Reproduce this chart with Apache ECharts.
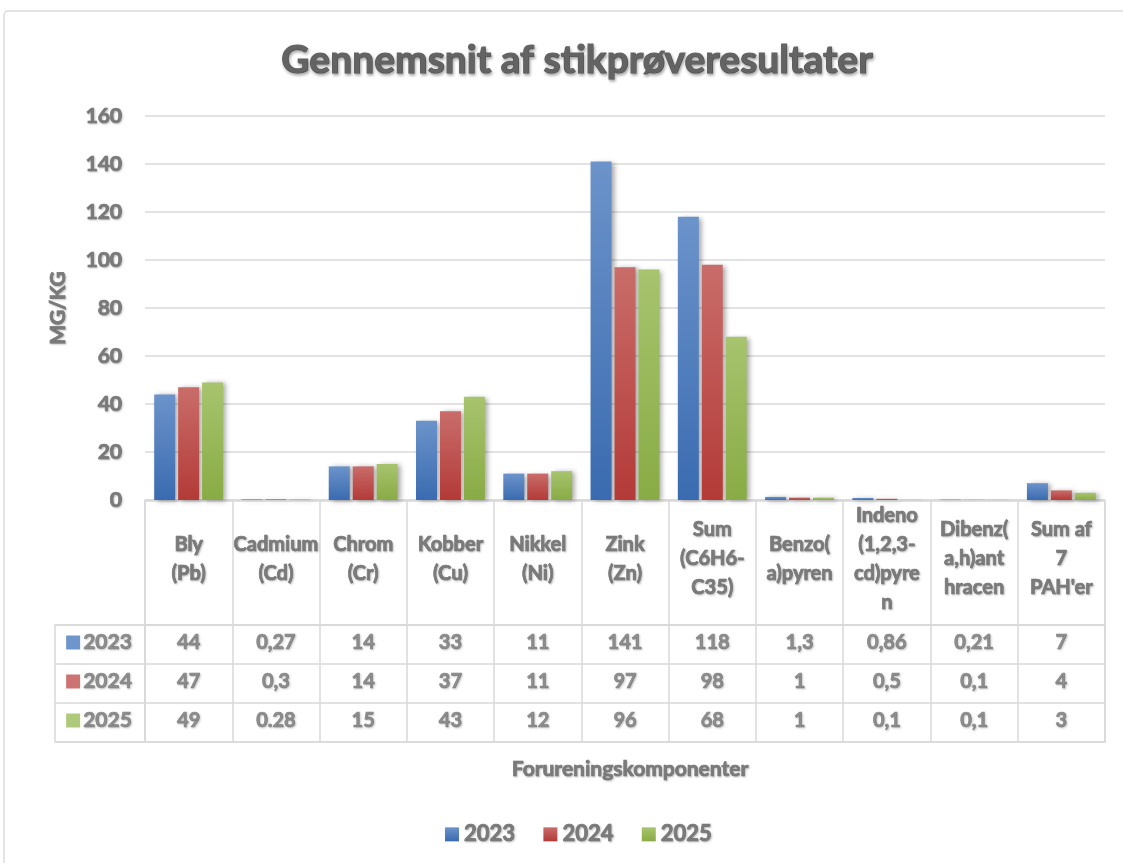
<!DOCTYPE html>
<html>
<head>
<meta charset="utf-8">
<script src="https://cdn.jsdelivr.net/npm/echarts@6/dist/echarts.min.js"></script>
<style>
html,body{margin:0;padding:0;background:#fff;}
#chart{width:1123px;height:863px;}
</style>
</head>
<body>
<div id="chart"></div>
<script>
const categories = ['Bly\n(Pb)', 'Cadmium\n(Cd)', 'Chrom\n(Cr)', 'Kobber\n(Cu)', 'Nikkel\n(Ni)', 'Zink\n(Zn)', 'Sum\n(C6H6-\nC35)', 'Benzo(\na)pyren', 'Indeno\n(1,2,3-\ncd)pyre\nn', 'Dibenz(\na,h)ant\nhracen', "Sum af\n7\nPAH'er"];
const years = ['2023', '2024', '2025'];
const values2023 = [44, 0.27, 14, 33, 11, 141, 118, 1.3, 0.86, 0.21, 7];
const values2024 = [47, 0.3, 14, 37, 11, 97, 98, 1, 0.5, 0.1, 4];
const values2025 = [49, 0.28, 15, 43, 12, 96, 68, 1, 0.1, 0.1, 3];
const labels2023 = ['44', '0,27', '14', '33', '11', '141', '118', '1,3', '0,86', '0,21', '7'];
const labels2024 = ['47', '0,3', '14', '37', '11', '97', '98', '1', '0,5', '0,1', '4'];
const labels2025 = ['49', '0.28', '15', '43', '12', '96', '68', '1', '0,1', '0,1', '3'];
const yMin = 0, yMax = 160, yStep = 20;

const FONT = 'Lato';
const W = 'bold';
const TXT = '#7a7a7a';
const LINE = '#d9d9d9';
const shadowTxt = {textBorderColor: TXT, textBorderWidth: 0.7, textShadowColor: 'rgba(0,0,0,0.22)', textShadowBlur: 2, textShadowOffsetX: 1, textShadowOffsetY: 1};

const colors = [
  {top: '#6c93ca', bottom: '#3a6bb0', solid: '#4a7bbf'},
  {top: '#c96d6a', bottom: '#b33a37', solid: '#c0504d'},
  {top: '#a7c46e', bottom: '#89ab45', solid: '#9bbb59'}
];
const valueSets = [values2023, values2024, values2025];
const labelSets = [labels2023, labels2024, labels2025];

function grad(c) {
  return new echarts.graphic.LinearGradient(0, 0, 0, 1, [
    {offset: 0, color: c.top}, {offset: 1, color: c.bottom}
  ]);
}

const series = [];
years.forEach((y, k) => {
  series.push({
    name: y, type: 'bar', xAxisIndex: 0, yAxisIndex: 0,
    data: valueSets[k],
    barWidth: 21, barGap: '14%',
    itemStyle: {color: grad(colors[k]), shadowColor: 'rgba(0,0,0,0.35)', shadowBlur: 5, shadowOffsetX: 3, shadowOffsetY: 1},
    emphasis: {disabled: true}
  });
});
years.forEach((y, k) => {
  series.push({
    name: 'tbl' + y, type: 'scatter', xAxisIndex: 2, yAxisIndex: 2,
    symbolSize: 1, itemStyle: {color: 'rgba(0,0,0,0)'},
    data: labelSets[k].map((s, i) => [i, k]),
    label: {show: true, position: 'inside', formatter: p => labelSets[k][p.dataIndex],
      color: TXT, fontFamily: FONT, fontWeight: W, fontSize: 20, offset: [0, -2], ...shadowTxt},
    emphasis: {disabled: true},
    silent: true
  });
});
series.push({
  name: 'legendcol', type: 'scatter', xAxisIndex: 3, yAxisIndex: 3,
  symbolSize: 1, itemStyle: {color: 'rgba(0,0,0,0)'},
  data: years.map((y, k) => [0, k]),
  label: {show: true, position: 'inside', offset: [-1, -2],
    formatter: p => '{s' + p.dataIndex + '|}{t|' + years[p.dataIndex] + '}',
    rich: {
      s0: {width: 14, height: 14, backgroundColor: colors[0].solid},
      s1: {width: 14, height: 14, backgroundColor: colors[1].solid},
      s2: {width: 14, height: 14, backgroundColor: colors[2].solid},
      t: {color: TXT, fontFamily: FONT, fontWeight: W, fontSize: 21, padding: [0, 0, 0, 3], ...shadowTxt}
    }},
  emphasis: {disabled: true},
  silent: true
});

const option = {
  backgroundColor: '#fff',
  animation: false,
  title: [
    {text: 'Gennemsnit af stikprøveresultater', left: 572, textAlign: 'center', top: 36,
      textStyle: {fontFamily: FONT, fontWeight: W, fontSize: 39, color: '#636363', textBorderColor: '#636363', textBorderWidth: 1.2,
        textShadowColor: 'rgba(0,0,0,0.3)', textShadowBlur: 3, textShadowOffsetX: 1, textShadowOffsetY: 2}},
    {text: 'Forureningskomponenter', left: 625, textAlign: 'center', top: 754,
      textStyle: {fontFamily: FONT, fontWeight: W, fontSize: 21, color: TXT, ...shadowTxt}}
  ],
  legend: {
    data: years, top: 818, left: 440, icon: 'rect', itemWidth: 14, itemHeight: 14, itemGap: 28,
    textStyle: {fontFamily: FONT, fontWeight: W, fontSize: 22, color: TXT, ...shadowTxt},
    selectedMode: false
  },
  graphic: [{type: 'rect', shape: {x: 4, y: 11, width: 1135, height: 870, r: 4}, style: {fill: 'none', stroke: '#dcdcdc', lineWidth: 1.5}, silent: true}],
  grid: [
    {left: 145, right: 18, top: 116, height: 384},
    {left: 145, right: 18, top: 501, height: 124, show: true, borderColor: LINE, borderWidth: 1.5},
    {left: 145, right: 18, top: 625, height: 117, show: true, borderColor: LINE, borderWidth: 1.5},
    {left: 55, width: 90, top: 625, height: 117, show: true, borderColor: LINE, borderWidth: 1.5}
  ],
  xAxis: [
    {type: 'category', gridIndex: 0, data: categories,
      axisLine: {lineStyle: {color: LINE, width: 1.5}}, axisTick: {show: false},
      axisLabel: {interval: 0, margin: 59, verticalAlign: 'middle', lineHeight: 29, hideOverlap: false,
        color: TXT, fontFamily: FONT, fontWeight: W, fontSize: 20, ...shadowTxt}},
    {type: 'category', gridIndex: 1, data: categories, axisLine: {show: false}, axisTick: {show: false}, axisLabel: {show: false},
      splitLine: {show: true, lineStyle: {color: LINE, width: 1.5}}},
    {type: 'category', gridIndex: 2, data: categories, axisLine: {show: false}, axisTick: {show: false}, axisLabel: {show: false},
      splitLine: {show: true, lineStyle: {color: LINE, width: 1.5}}},
    {type: 'category', gridIndex: 3, data: [''], axisLine: {show: false}, axisTick: {show: false}, axisLabel: {show: false}}
  ],
  yAxis: [
    {type: 'value', gridIndex: 0, min: yMin, max: yMax, interval: yStep,
      name: 'MG/KG', nameLocation: 'middle', nameGap: 76, nameRotate: 90,
      nameTextStyle: {fontFamily: FONT, fontWeight: W, fontSize: 21, color: TXT, ...shadowTxt},
      axisLine: {show: false}, axisTick: {show: false},
      axisLabel: {margin: 23, color: TXT, fontFamily: FONT, fontWeight: W, fontSize: 21, ...shadowTxt},
      splitLine: {lineStyle: {color: LINE, width: 1.5}}},
    {type: 'value', gridIndex: 1, show: false},
    {type: 'category', gridIndex: 2, data: years, inverse: true, axisLine: {show: false}, axisTick: {show: false}, axisLabel: {show: false},
      splitLine: {show: true, lineStyle: {color: LINE, width: 1.5}}},
    {type: 'category', gridIndex: 3, data: years, inverse: true, axisLine: {show: false}, axisTick: {show: false}, axisLabel: {show: false},
      splitLine: {show: true, lineStyle: {color: LINE, width: 1.5}}}
  ],
  series: series
};

const chart = echarts.init(document.getElementById('chart'), null, {renderer: 'canvas'});
chart.setOption(option);
</script>
</body>
</html>
